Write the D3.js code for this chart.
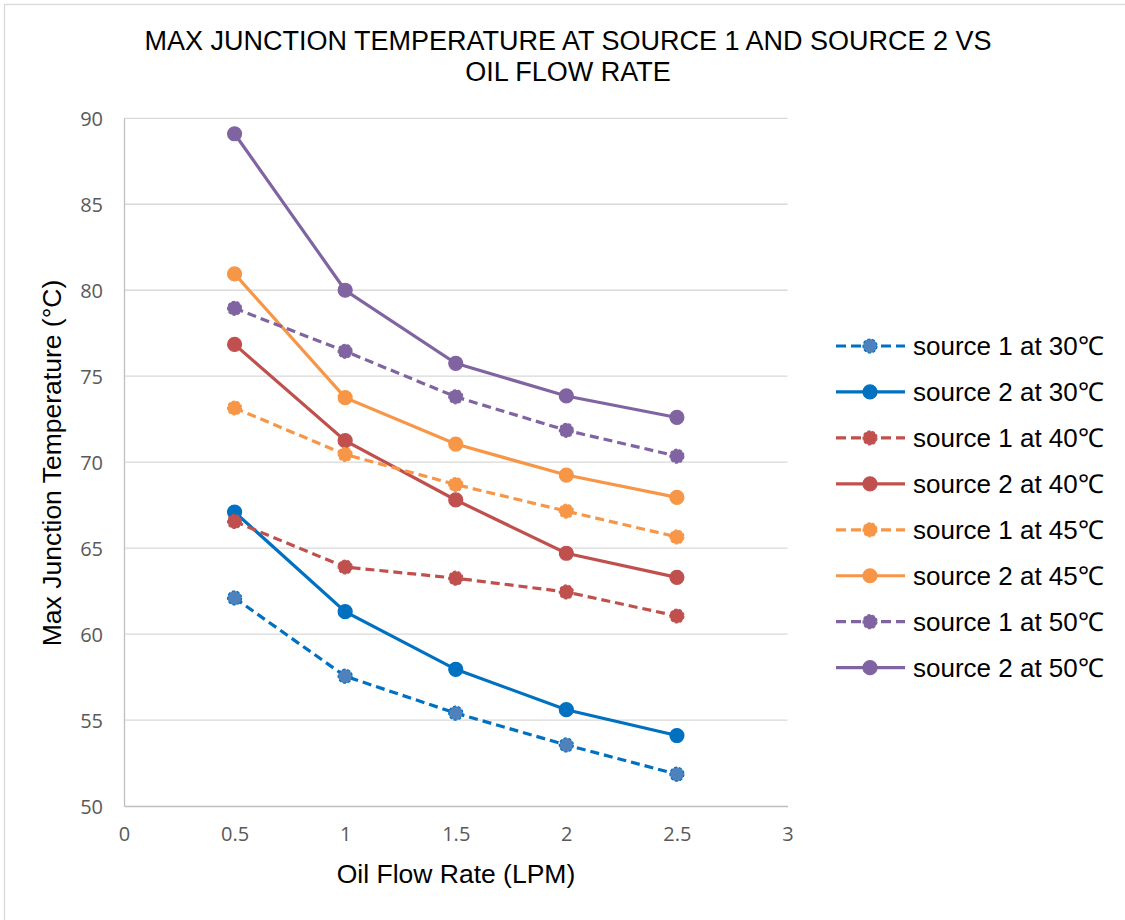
<!DOCTYPE html>
<html>
<head>
<meta charset="utf-8">
<script src="https://cdn.jsdelivr.net/npm/d3@7"></script>
<style>
  body { margin: 0; background: #fff; }
</style>
</head>
<body>
<div id="chart"></div>
<script>
// data
let flowRate = [0.5, 1, 1.5, 2, 2.5];
let src1At30 = [62.1, 57.55, 55.4, 53.55, 51.85];
let src2At30 = [67.1, 61.3, 57.95, 55.6, 54.1];
let src1At40 = [66.55, 63.9, 63.25, 62.45, 61.05];
let src2At40 = [76.85, 71.25, 67.8, 64.7, 63.3];
let src1At45 = [73.15, 70.45, 68.7, 67.15, 65.65];
let src2At45 = [80.95, 73.75, 71.05, 69.25, 67.95];
let src1At50 = [78.95, 76.45, 73.8, 71.85, 70.35];
let src2At50 = [89.1, 80.0, 75.75, 73.85, 72.6];
let seriesNames = ['source 1 at 30℃', 'source 2 at 30℃', 'source 1 at 40℃', 'source 2 at 40℃',
                   'source 1 at 45℃', 'source 2 at 45℃', 'source 1 at 50℃', 'source 2 at 50℃'];
let xTicks = [0, 0.5, 1, 1.5, 2, 2.5, 3];
let yTicks = [50, 55, 60, 65, 70, 75, 80, 85, 90];

let width = 1125;
let height = 920;
let plotLeft = 124, plotRight = 787.5, plotTop = 118.3, plotBottom = 806;

let colors = ['#0070C0', '#0070C0', '#C0504D', '#C0504D', '#F79646', '#F79646', '#8064A2', '#8064A2'];
let markFill = ['#4F81BD', '#0070C0', '#C0504D', '#C0504D', '#F79646', '#F79646', '#8064A2', '#8064A2'];
let allValues = [src1At30, src2At30, src1At40, src2At40, src1At45, src2At45, src1At50, src2At50];

let series = [];
for (let i = 0; i < allValues.length; i++) {
    series.push({
        name: seriesNames[i],
        dashed: i % 2 == 0,
        color: colors[i],
        fill: markFill[i],
        points: flowRate.map((f, j) => ({ x: f, y: allValues[i][j] }))
    });
}

let svg = d3.select('#chart')
    .append('svg')
    .attr('width', width)
    .attr('height', height);

// chart border
svg.append('rect')
    .attr('x', 4.5).attr('y', 4.5)
    .attr('width', 1140).attr('height', 940)
    .attr('fill', 'white')
    .attr('stroke', '#d9d9d9')
    .attr('stroke-width', 1.3);

let x = d3.scaleLinear().domain([0, 3]).range([plotLeft, plotRight]);
let y = d3.scaleLinear().domain([50, 90]).range([plotBottom, plotTop]);

// gridlines
svg.append('g')
    .selectAll('line')
    .data(yTicks.slice(1))
    .enter().append('line')
    .attr('x1', plotLeft).attr('x2', plotRight)
    .attr('y1', d => y(d)).attr('y2', d => y(d))
    .attr('stroke', '#d9d9d9')
    .attr('stroke-width', 1.3);

// axes
let yAxis = svg.append('g')
    .attr('transform', 'translate(' + plotLeft + ',0)')
    .call(d3.axisLeft(y).tickValues(yTicks).tickSize(0).tickPadding(21));
let xAxis = svg.append('g')
    .attr('transform', 'translate(0,' + plotBottom + ')')
    .call(d3.axisBottom(x).tickValues(xTicks).tickSize(0).tickPadding(21).tickFormat(d3.format('')));

[xAxis, yAxis].forEach(function (a) {
    a.select('.domain').attr('stroke', '#bfbfbf').attr('stroke-width', 1.3);
    a.selectAll('text')
        .attr('fill', '#595959')
        .style('font-family', '"Open Sans", sans-serif')
        .style('font-size', '20px');
});
yAxis.selectAll('text').attr('dy', '0.36em');

// lines
let line = d3.line().x(d => x(d.x)).y(d => y(d.y));

let groups = svg.selectAll('.series')
    .data(series)
    .enter().append('g')
    .attr('class', 'series');

groups.append('path')
    .attr('d', d => line(d.points))
    .attr('fill', 'none')
    .attr('stroke', d => d.color)
    .attr('stroke-width', 3.2)
    .attr('stroke-dasharray', d => d.dashed ? '9,5' : null);

groups.selectAll('circle')
    .data(d => d.points.map(p => ({ p: p, s: d })))
    .enter().append('circle')
    .attr('cx', d => x(d.p.x))
    .attr('cy', d => y(d.p.y))
    .attr('r', 7)
    .attr('fill', d => d.s.fill)
    .attr('stroke', d => d.s.color)
    .attr('stroke-width', 1.2)
    .attr('stroke-dasharray', d => d.s.dashed ? '3,2' : null);

// title
let title = svg.append('text')
    .attr('text-anchor', 'middle')
    .style('font-family', '"Liberation Sans", Arial, sans-serif')
    .style('font-size', '27px')
    .attr('fill', '#000');
title.append('tspan').attr('x', 568).attr('y', 50).text('MAX JUNCTION TEMPERATURE AT SOURCE 1 AND SOURCE 2 VS');
title.append('tspan').attr('x', 568).attr('y', 81).text('OIL FLOW RATE');

// axis titles
svg.append('text')
    .attr('x', 456).attr('y', 883)
    .attr('text-anchor', 'middle')
    .style('font-family', '"Liberation Sans", Arial, sans-serif')
    .style('font-size', '26.5px')
    .text('Oil Flow Rate (LPM)');

svg.append('text')
    .attr('transform', 'translate(61,463) rotate(-90)')
    .attr('text-anchor', 'middle')
    .style('font-family', '"Liberation Sans", Arial, sans-serif')
    .style('font-size', '26.5px')
    .text('Max Junction Temperature (°C)');

// legend
let legend = svg.selectAll('.legend')
    .data(series)
    .enter().append('g')
    .attr('class', 'legend')
    .attr('transform', (d, i) => 'translate(836,' + (346 + i * 45.95) + ')');

legend.append('line')
    .attr('x1', 0).attr('x2', 69)
    .attr('stroke', d => d.color)
    .attr('stroke-width', 3.2)
    .attr('stroke-dasharray', d => d.dashed ? '10,5' : null);

legend.append('circle')
    .attr('cx', 34).attr('r', 7)
    .attr('fill', d => d.fill)
    .attr('stroke', d => d.color)
    .attr('stroke-width', 1.2)
    .attr('stroke-dasharray', d => d.dashed ? '3,2' : null);

legend.append('text')
    .attr('x', 77).attr('y', 0)
    .attr('dy', '0.36em')
    .style('font-family', '"Liberation Sans", Arial, sans-serif')
    .style('font-size', '26px')
    .text(d => d.name);
</script>
</body>
</html>
